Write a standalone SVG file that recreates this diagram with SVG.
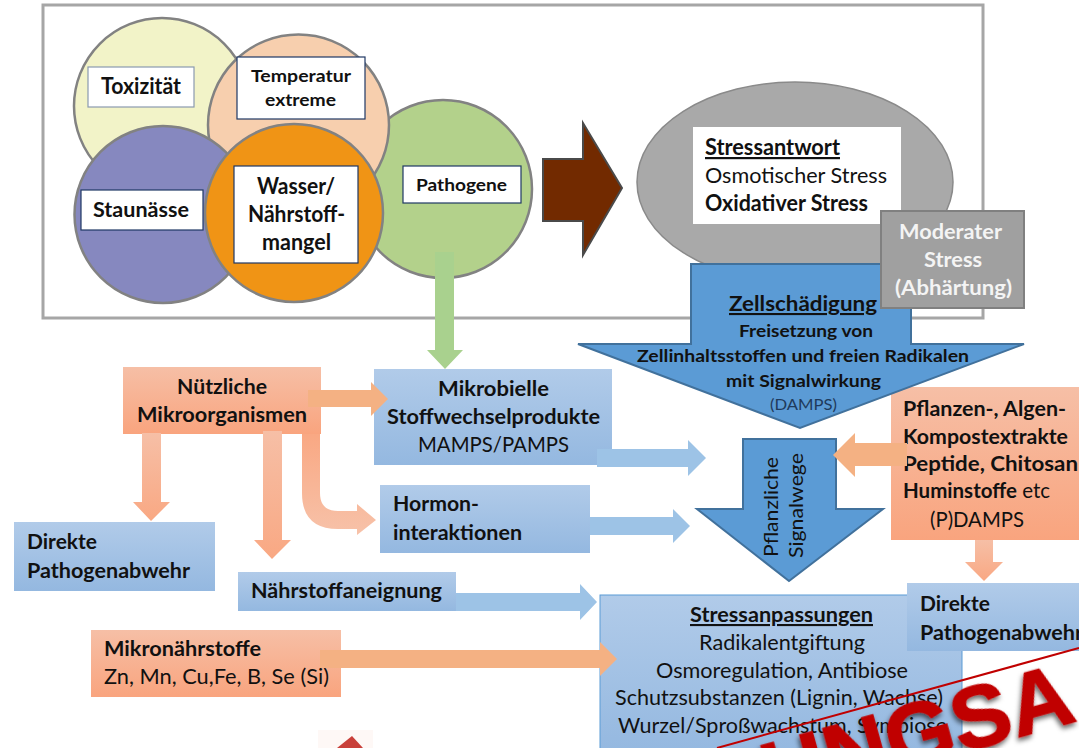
<svg xmlns="http://www.w3.org/2000/svg" width="1079" height="748" viewBox="0 0 1079 748">
<style>
text{font-family:"Lato","Open Sans",sans-serif;fill:#111;font-size:21px}
.b{font-weight:700}
.u{text-decoration:underline}
.w{fill:#f4f4f4}
.lab{fill:#fff;stroke:#1f3864;stroke-width:1.2}
.c{stroke:#828282;stroke-width:2.5}
.blue{fill:url(#gb)}
.sal{fill:url(#gs)}
.aor{fill:#f4b183}
.abl{fill:#9dc3e6}
.asl{fill:url(#ga)}
.acv{fill:url(#gc)}
.big{fill:#5b9bd5;stroke:#41719c;stroke-width:2}
</style>
<defs>
<linearGradient id="gb" x1="0" y1="0" x2="0" y2="1"><stop offset="0" stop-color="#b1cbe9"/><stop offset="1" stop-color="#94b8e0"/></linearGradient>
<linearGradient id="gs" x1="0" y1="0" x2="0" y2="1"><stop offset="0" stop-color="#f6bfa6"/><stop offset="1" stop-color="#f9a47e"/></linearGradient>
<linearGradient id="ga" x1="0" y1="0" x2="0" y2="1"><stop offset="0" stop-color="#f6bfa6"/><stop offset="1" stop-color="#f9a883"/></linearGradient>
<linearGradient id="gc" x1="0" y1="0" x2="0" y2="1"><stop offset="0" stop-color="#f9a883"/><stop offset="1" stop-color="#f7c2a9"/></linearGradient>
<filter id="sh" x="-10%" y="-20%" width="120%" height="150%"><feDropShadow dx="-2" dy="3" stdDeviation="2.5" flood-color="#000" flood-opacity=".6"/></filter>
</defs>
<rect width="1079" height="748" fill="#fff"/>
<g id="frame"><rect x="43" y="5" width="940" height="313" fill="#fff" stroke="#a6a6a6" stroke-width="3"/></g>
<g id="stress-circles">
<circle class="c" cx="443" cy="189" r="89" fill="#b3d18b"/>
<circle class="c" cx="162" cy="106" r="88" fill="#f2f3c8"/>
<circle class="c" cx="298.500" cy="125" r="90.500" fill="#f7cfae"/>
<circle class="c" cx="163" cy="214.500" r="88.500" fill="#8688bf"/>
<circle class="c" cx="294" cy="213" r="89" fill="#f09415"/>
</g>
<g id="node-toxizitaet"><rect class="lab" x="88" y="67" width="106" height="40" style="stroke:#8a9ab0"/><text class="b" x="101" y="94" textLength="80" lengthAdjust="spacingAndGlyphs" style="font-size:22px">Toxizität</text></g>
<g id="node-temperatur"><rect class="lab" x="237" y="57" width="128" height="62"/><text class="b" x="251" y="82" textLength="100" lengthAdjust="spacingAndGlyphs" style="font-size:17px">Temperatur</text><text class="b" x="265" y="106" textLength="71" lengthAdjust="spacingAndGlyphs" style="font-size:17px">extreme</text></g>
<g id="node-staunaesse"><rect class="lab" x="81" y="190" width="122" height="40"/><text class="b" x="93" y="217" textLength="96" lengthAdjust="spacingAndGlyphs" style="font-size:20px">Staunässe</text></g>
<g id="node-wasser"><rect class="lab" x="234" y="166" width="124" height="97"/><text class="b" x="257" y="194" textLength="78" lengthAdjust="spacingAndGlyphs" style="font-size:22px">Wasser/</text><text class="b" x="248" y="222" textLength="97" lengthAdjust="spacingAndGlyphs" style="font-size:22px">Nährstoff-</text><text class="b" x="262" y="250" textLength="69" lengthAdjust="spacingAndGlyphs" style="font-size:22px">mangel</text></g>
<g id="node-pathogene"><rect class="lab" x="403" y="166" width="118" height="37"/><text class="b" x="416" y="191" textLength="91" lengthAdjust="spacingAndGlyphs" style="font-size:17px">Pathogene</text></g>
<g id="node-stressantwort">
<ellipse cx="795" cy="182" rx="158" ry="100" fill="#a9a9a9" stroke="#8a8a8a" stroke-width="1.500"/>
<rect x="693" y="127" width="208" height="97" fill="#fff"/>
<text class="b u" x="705" y="155" textLength="135" lengthAdjust="spacingAndGlyphs" style="font-size:22px">Stressantwort</text>
<text x="705" y="183" textLength="182" lengthAdjust="spacingAndGlyphs" style="font-size:22px">Osmotischer Stress</text>
<text class="b" x="705" y="211" textLength="163" lengthAdjust="spacingAndGlyphs" style="font-size:22px">Oxidativer Stress</text>
</g>
<g id="node-nuetzliche"><rect class="sal" x="123" y="367" width="198" height="67"/><text class="b" x="177" y="394" textLength="90" lengthAdjust="spacingAndGlyphs">Nützliche</text><text class="b" x="137" y="422" textLength="170" lengthAdjust="spacingAndGlyphs">Mikroorganismen</text></g>
<g id="node-mikrobielle"><rect class="blue" x="374" y="369" width="238" height="96"/><text class="b" x="438" y="396" textLength="111" lengthAdjust="spacingAndGlyphs">Mikrobielle</text><text class="b" x="387" y="424" textLength="213" lengthAdjust="spacingAndGlyphs">Stoffwechselprodukte</text><text x="418" y="452" textLength="151" lengthAdjust="spacingAndGlyphs">MAMPS/PAMPS</text></g>
<g id="node-hormon"><rect class="blue" x="380" y="485" width="210" height="68"/><text class="b" x="393" y="511" textLength="86" lengthAdjust="spacingAndGlyphs">Hormon-</text><text class="b" x="393" y="540" textLength="129" lengthAdjust="spacingAndGlyphs">interaktionen</text></g>
<g id="node-direkte1"><rect class="blue" x="14" y="522" width="201" height="69"/><text class="b" x="27" y="549" textLength="70" lengthAdjust="spacingAndGlyphs">Direkte</text><text class="b" x="27" y="578" textLength="163" lengthAdjust="spacingAndGlyphs">Pathogenabwehr</text></g>
<g id="node-naehrstoff"><rect class="blue" x="238" y="572" width="218" height="39"/><text class="b" x="251" y="598" textLength="191" lengthAdjust="spacingAndGlyphs">Nährstoffaneignung</text></g>
<g id="node-stressanpassungen"><rect class="blue" x="600" y="595" width="362" height="160" stroke="#5b9bd5"/>
<text class="b u" x="690" y="622" textLength="183" lengthAdjust="spacingAndGlyphs">Stressanpassungen</text>
<text x="699" y="650" textLength="166" lengthAdjust="spacingAndGlyphs">Radikalentgiftung</text>
<text x="656" y="678" textLength="252" lengthAdjust="spacingAndGlyphs">Osmoregulation, Antibiose</text>
<text x="615" y="705" textLength="328" lengthAdjust="spacingAndGlyphs">Schutzsubstanzen (Lignin, Wachse)</text>
<text x="618" y="733" textLength="329" lengthAdjust="spacingAndGlyphs">Wurzel/Sproßwachstum, Symbiose</text></g>
<g id="node-mikronaehrstoffe"><rect class="sal" x="91" y="630" width="250" height="67"/><text class="b" x="104" y="656" textLength="157" lengthAdjust="spacingAndGlyphs">Mikronährstoffe</text><text x="104" y="684" textLength="225" lengthAdjust="spacingAndGlyphs">Zn, Mn, Cu,Fe, B, Se (Si)</text></g>
<g id="node-pflanzen"><rect class="sal" x="891" y="387" width="188" height="153"/>
<text class="b" x="903" y="416" textLength="163" lengthAdjust="spacingAndGlyphs">Pflanzen-, Algen-</text>
<text class="b" x="903" y="444" textLength="165" lengthAdjust="spacingAndGlyphs">Kompostextrakte</text>
<text class="b" x="903" y="471" textLength="175" lengthAdjust="spacingAndGlyphs">Peptide, Chitosan</text>
<text x="903" y="498" textLength="147" lengthAdjust="spacingAndGlyphs"><tspan class="b">Huminstoffe</tspan> etc</text>
<text x="930" y="527" textLength="94" lengthAdjust="spacingAndGlyphs">(P)DAMPS</text></g>
<g id="node-direkte2"><rect class="blue" x="907" y="583" width="172" height="68"/><text class="b" x="920" y="611" textLength="70" lengthAdjust="spacingAndGlyphs">Direkte</text><text class="b" x="920" y="640" textLength="163" lengthAdjust="spacingAndGlyphs">Pathogenabwehr</text></g>
<g id="node-zellschaedigung">
<polygon class="big" points="691,264 911,264 911,344 1024,344 800,428 578,344 691,344"/>
<text class="b u" x="729" y="311" textLength="148" lengthAdjust="spacingAndGlyphs">Zellschädigung</text>
<text class="b" x="739" y="337" textLength="134" lengthAdjust="spacingAndGlyphs" style="font-size:17px">Freisetzung von</text>
<text class="b" x="637" y="362" textLength="332" lengthAdjust="spacingAndGlyphs" style="font-size:17px">Zellinhaltsstoffen und freien Radikalen</text>
<text class="b" x="726" y="387" textLength="155" lengthAdjust="spacingAndGlyphs" style="font-size:17px">mit Signalwirkung</text>
<text x="770" y="410" textLength="67" lengthAdjust="spacingAndGlyphs" style="font-size:15px;fill:#1f3a5c">(DAMPS)</text>
</g>
<g id="node-moderater"><rect x="881" y="211" width="143" height="97" fill="#a0a0a0" stroke="#808080" stroke-width="2"/>
<text class="b w" x="899" y="239" textLength="103" lengthAdjust="spacingAndGlyphs">Moderater</text>
<text class="b w" x="924" y="267" textLength="58" lengthAdjust="spacingAndGlyphs">Stress</text>
<text class="b w" x="895" y="295" textLength="117" lengthAdjust="spacingAndGlyphs">(Abhärtung)</text></g>
<g id="node-signalwege">
<polygon class="big" points="743,439 836,439 836,509 883,509 789,581 697,509 743,509"/>
<text transform="translate(778,557) rotate(-90)" textLength="100" lengthAdjust="spacingAndGlyphs" style="font-size:20px">Pflanzliche</text>
<text transform="translate(803,558) rotate(-90)" textLength="105" lengthAdjust="spacingAndGlyphs" style="font-size:20px">Signalwege</text>
</g>
<g id="connectors">
<polygon points="543,159 583,159 583,123 622,188 583,255 583,221 543,221" fill="#722a00" stroke="#4a4a4a" stroke-width="2"/>
<polygon points="435,252 454,252 454,350 463,350 445,369 427,350 435,350" fill="#a9d18e"/>
<polygon class="aor" points="308,390 371,390 371,382 388,399 371,416 371,407 308,407"/>
<polygon class="asl" points="142,433 161,433 161,502 170,502 151,521 133,502 142,502"/>
<polygon class="asl" points="263,431 282,431 282,540 291,540 272,559 254,540 263,540"/>
<path class="acv" d="M302,434H320V493Q320,511 338,511H357V504L376,520L357,535V529H338Q302,529 302,493Z"/>
<polygon class="abl" points="597,449 688,449 688,440 706,458 688,476 688,467 597,467"/>
<polygon class="abl" points="590,517 673,517 673,509 690,526 673,543 673,535 590,535"/>
<polygon class="abl" points="456,593 580,593 580,584 597,602 580,620 580,611 456,611"/>
<polygon class="aor" points="320,650 600,650 600,642 617,659 600,676 600,668 320,668"/>
<polygon class="aor" points="833,455 855,433 855,443 907,443 907,466 855,466 855,477"/>
<polygon class="asl" points="975,540 993,540 993,562 1003,562 984,581 965,562 975,562"/>
</g>
<g id="stamp">
<rect x="318" y="730" width="55" height="18" fill="#fef8f6"/>
<polygon points="337,748 352,736 363,748" fill="#c9403a"/>
<line x1="717" y1="748" x2="1079" y2="648" stroke="#c00000" stroke-width="2"/>
<text transform="translate(772,805) rotate(-15.500)" filter="url(#sh)" style="font-family:'Liberation Sans',sans-serif;font-size:88px;font-weight:700;fill:#c00000;stroke:#c00000;stroke-width:1.500">UNGSA</text>
</g>
</svg>
